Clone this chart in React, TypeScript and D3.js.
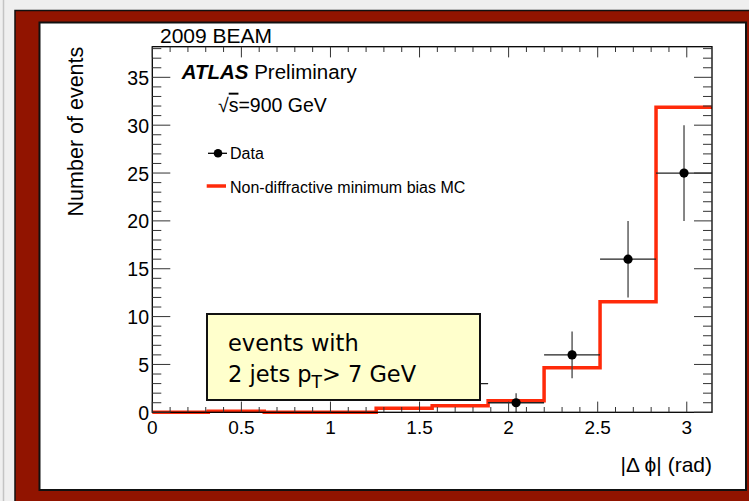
import React from "react";
import * as d3 from "d3";

// Histogram definition: 10 bins over |Δφ| in [0, π]
const nBins = 10;
const phiMax = Math.PI;

// Non-diffractive minimum bias MC prediction (per bin)
const mcValues = [0.0, 0.1, 0.0, 0.0, 0.42, 0.69, 1.2, 4.66, 11.56, 31.87];

// 2009 beam data: counts and statistical errors per bin
const dataValues = [0, 0, 0, 0, 0, 3, 1, 6, 16, 25];
const dataErrors = [0, 0, 0, 0, 0, 1.73, 1, 2.45, 4, 5];

// Axis ticks
const xMajorTicks = [0, 0.5, 1, 1.5, 2, 2.5, 3];
const xTickLabels = ["0", "0.5", "1", "1.5", "2", "2.5", "3"];
const yMajorTicks = [0, 5, 10, 15, 20, 25, 30, 35];
const yTickLabels = ["0", "5", "10", "15", "20", "25", "30", "35"];
const yMax = 38.2;

const W = 749;
const H = 501;
const FONT = "'Liberation Sans', Arial, Helvetica, sans-serif";
const NOTE_FONT = "'Comic Sans MS', 'DejaVu Sans', sans-serif";
const MC_RED = "#ff2a0a";

export default function App() {
  const x = d3.scaleLinear().domain([0, phiMax]).range([152.3, 712]);
  const y = d3.scaleLinear().domain([0, yMax]).range([412.3, 46.7]);

  const binW = phiMax / nBins;
  const edges = d3.range(nBins + 1).map((i) => i * binW);

  // MC step outline
  const stepPts: [number, number][] = [];
  mcValues.forEach((v, i) => {
    stepPts.push([edges[i], v]);
    stepPts.push([edges[i + 1], v]);
  });
  const stepLine = d3
    .line<[number, number]>()
    .x((d) => x(d[0]))
    .y((d) => y(d[1]));

  const xMinor = d3.range(0, 31).map((i) => i / 10).filter((v) => v <= phiMax);
  const yMinor = d3.range(0, 39);

  const [xl, xr] = x.range();
  const [yb, yt] = y.range();

  return (
    <svg
      width={W}
      height={H}
      style={{ position: "absolute", left: 0, top: 0, display: "block" }}
      fontFamily={FONT}
    >
      {/* page background */}
      <rect x={0} y={0} width={W} height={H} fill="#efefef" />
      <line x1={3.5} y1={0} x2={3.5} y2={H} stroke="#c4c4c4" strokeWidth={1.5} />
      {/* dark red frame */}
      <rect x={15} y={10.5} width={W} height={H} fill="#911400" stroke="#111" strokeWidth={1.5} />
      {/* white canvas */}
      <rect x={39.5} y={22.5} width={706.5} height={467.5} fill="#fff" stroke="#111" strokeWidth={2} />

      {/* MC histogram */}
      <path d={stepLine(stepPts) || ""} fill="none" stroke={MC_RED} strokeWidth={3.5} />

      {/* data points with error bars */}
      {dataValues.map((v, i) => {
        if (v <= 0) return null;
        const cx = x((edges[i] + edges[i + 1]) / 2);
        const cy = y(v);
        return (
          <g key={i}>
            <line x1={x(edges[i])} x2={x(edges[i + 1])} y1={cy} y2={cy} stroke="#222" strokeWidth={1.3} />
            <line x1={cx} x2={cx} y1={y(v + dataErrors[i])} y2={y(Math.max(0, v - dataErrors[i]))} stroke="#444" strokeWidth={1.3} />
            <circle cx={cx} cy={cy} r={4.6} fill="#000" />
          </g>
        );
      })}

      {/* annotation box */}
      <rect x={207} y={314} width={273} height={86} fill="#ffffcc" stroke="#111" strokeWidth={2} />
      <text x={228} y={351} fontFamily={NOTE_FONT} fontSize={22.5} fill="#000">
        events with
      </text>
      <text x={228} y={382} fontFamily={NOTE_FONT} fontSize={22.5} fill="#000">
        2 jets p
        <tspan fontSize={17} dy={6}>T</tspan>
        <tspan dy={-6}>&gt;</tspan> 7 GeV
      </text>

      {/* frame */}
      <rect x={xl} y={yt} width={xr - xl} height={yb - yt} fill="none" stroke="#000" strokeWidth={1.3} />

      {/* x ticks (bottom and top) */}
      {xMinor.map((t, i) => {
        const major = Math.abs(t * 2 - Math.round(t * 2)) < 1e-6;
        const len = major ? 10.7 : 5.3;
        return (
          <g key={"xt" + i} stroke="#333" strokeWidth={1}>
            <line x1={x(t)} x2={x(t)} y1={yb} y2={yb - len} />
            <line x1={x(t)} x2={x(t)} y1={yt} y2={yt + len} />
          </g>
        );
      })}
      {/* y ticks (left and right) */}
      {yMinor.map((t, i) => {
        const major = t % 5 === 0;
        const len = major ? 18 : 9;
        return (
          <g key={"yt" + i} stroke="#333" strokeWidth={1}>
            <line x1={xl} x2={xl + len} y1={y(t)} y2={y(t)} />
            <line x1={xr} x2={xr - len} y1={y(t)} y2={y(t)} />
          </g>
        );
      })}

      {/* tick labels */}
      {xMajorTicks.map((t, i) => (
        <text key={"xl" + i} x={x(t)} y={433.5} textAnchor="middle" fontSize={19} fill="#000">
          {xTickLabels[i]}
        </text>
      ))}
      {yMajorTicks.map((t, i) => (
        <text key={"yl" + i} x={149} y={y(t) + 7.5} textAnchor="end" fontSize={19.5} fill="#000">
          {yTickLabels[i]}
        </text>
      ))}

      {/* axis titles */}
      <text x={712} y={472} textAnchor="end" fontSize={21} fill="#000">
        |Δ ϕ| (rad)
      </text>
      <text
        transform={`translate(83.3, ${yt}) rotate(-90)`}
        textAnchor="end"
        fontSize={21.5}
        fill="#000"
      >
        Number of events
      </text>

      {/* labels */}
      <text x={160} y={42.7} fontSize={21} fill="#000">2009 BEAM</text>
      <text x={181.7} y={79} fontSize={20.5} fill="#000">
        <tspan fontWeight="bold" fontStyle="italic">ATLAS</tspan> Preliminary
      </text>
      <text x={218} y={111.7} fontSize={19.5} fill="#000">
        √<tspan textDecoration="overline">s</tspan>=900 GeV
      </text>

      {/* legend */}
      <line x1={208} x2={227} y1={153.3} y2={153.3} stroke="#000" strokeWidth={1.3} />
      <circle cx={218} cy={153.3} r={4.3} fill="#000" />
      <text x={230} y={158.8} fontSize={16} fill="#000">Data</text>
      <line x1={206.7} x2={226} y1={186} y2={186} stroke={MC_RED} strokeWidth={3.5} />
      <text x={230} y={192.5} fontSize={16} fill="#000">Non-diffractive minimum bias MC</text>
    </svg>
  );
}
